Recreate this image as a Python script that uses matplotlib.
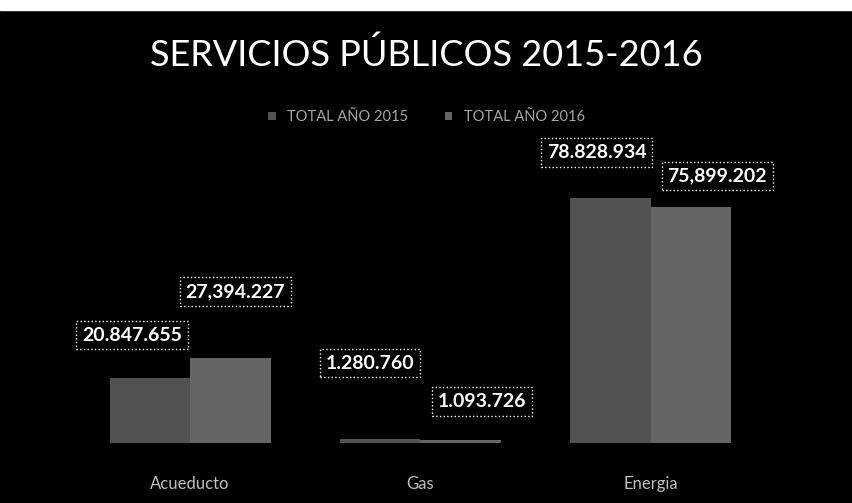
import numpy as np
import matplotlib
matplotlib.use('Agg')
from matplotlib import pyplot as plt
from matplotlib.patches import Rectangle

plt.rcParams['font.family'] = ['Lato', 'DejaVu Sans']

categorias = ['Acueducto', 'Gas', 'Energia']
total_2015 = [20847655, 1280760, 78828934]
total_2016 = [27394227, 1093726, 75899202]
etiquetas_2015 = ['20.847.655', '1.280.760', '78.828.934']
etiquetas_2016 = ['27,394.227', '1.093.726', '75,899.202']
series = ['TOTAL AÑO 2015', 'TOTAL AÑO 2016']

fig = plt.figure(figsize=(8.53, 5.03), dpi=100, facecolor='black')
ax = fig.add_axes([75/853, 60/503, 691/853, 280/503])
ax.set_facecolor('black')

x = np.arange(len(categorias))
w = 0.35
b1 = ax.bar(x - w/2, total_2015, w, color='#525252', label=series[0])
b2 = ax.bar(x + w/2, total_2016, w, color='#656565', label=series[1])

ax.set_xlim(-0.5, 2.5)
ax.set_ylim(0, 90e6)
ax.set_yticks([])
ax.set_xticks(x)
ax.set_xticklabels(categorias, color='#bfbfbf', fontsize=12)
ax.tick_params(axis='x', length=0, pad=24)
for s in ax.spines.values():
    s.set_visible(False)

# label offsets (pixels) relative to bar top, hand-tuned to match layout
off_2015 = [(-18, 43), (-10, 76), (-14, 45)]
off_2016 = [(5, 66), (21, 38), (26, 31)]
box = dict(boxstyle='square,pad=0.3', fc='black', ec='white', ls=':', lw=1)
for i in range(len(categorias)):
    ax.annotate(etiquetas_2015[i], (x[i] - w/2, total_2015[i]), xytext=off_2015[i],
                textcoords='offset pixels', ha='center', va='center',
                color='white', fontsize=14, fontweight='bold', bbox=box)
    ax.annotate(etiquetas_2016[i], (x[i] + w/2, total_2016[i]), xytext=off_2016[i],
                textcoords='offset pixels', ha='center', va='center',
                color='white', fontsize=14, fontweight='bold', bbox=box)

fig.text(0.5, 1 - 55/503, 'SERVICIOS PÚBLICOS 2015-2016', ha='center', va='center',
         color='white', fontsize=26)
leg = fig.legend(loc='center', bbox_to_anchor=(0.5, 1 - 117/503), ncol=2, frameon=False,
                 fontsize=10.5, handlelength=0.5, handleheight=0.5, columnspacing=2.5)
for t in leg.get_texts():
    t.set_color('#a6a6a6')

fig.add_artist(Rectangle((0, 1 - 10/503), 1, 10/503, transform=fig.transFigure,
                         color='white', zorder=5))

fig.savefig('out.png', dpi=100, facecolor='black')
